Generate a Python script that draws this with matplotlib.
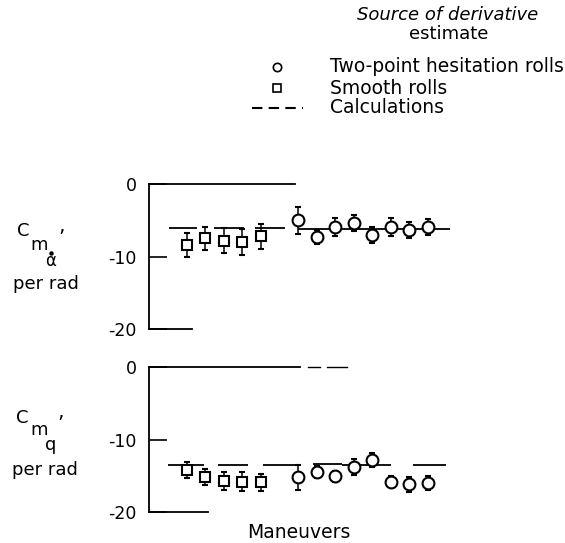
import matplotlib.pyplot as plt

plt.rcParams['font.family'] = ['DejaVu Sans']

# maneuver index of each point (slot 5 is empty)
smooth_x = [0, 1, 2, 3, 4]
hes_x = [6, 7, 8, 9, 10, 11, 12, 13]

# C_m alpha-dot', per rad
ad_smooth = [-8.4, -7.5, -7.8, -8.0, -7.2]
ad_smooth_err = [1.7, 1.6, 1.75, 1.8, 1.7]
ad_hes = [-5.0, -7.3, -5.9, -5.4, -7.0, -5.9, -6.4, -5.9]
ad_hes_err = [1.85, 0.9, 1.25, 1.1, 1.1, 1.2, 1.1, 1.1]
ad_calc_start = [-0.95, 1.45, 3.7, 6.0]
ad_calc_end = [0.55, 3.1, 5.3, 14.2]
ad_calc = [-6.1, -6.1, -6.1, -6.2]

# C_m q', per rad
q_smooth = [-14.2, -15.2, -15.7, -15.8, -15.9]
q_smooth_err = [1.1, 1.1, 1.25, 1.3, 1.2]
q_hes = [-15.2, -14.5, -15.1, -13.8, -12.8, -15.8, -16.2, -16.0]
q_hes_err = [1.7, 0.8, 0.75, 1.1, 1.0, 0.8, 1.0, 1.0]
q_calc_start = [-1.05, 1.7, 4.1, 6.8, 8.4, 12.2]
q_calc_end = [0.9, 3.3, 6.0, 8.4, 11.0, 14.0]
q_calc = [-13.5, -13.5, -13.5, -13.4, -13.5, -13.5]

fig = plt.figure(figsize=(5.65, 5.43), dpi=100)

ax1 = fig.add_axes([0.2637, 0.394, 0.575, 0.267])
ax2 = fig.add_axes([0.2637, 0.0571, 0.575, 0.267])

panels = [
    (ax1, ad_smooth, ad_smooth_err, ad_hes, ad_hes_err,
     ad_calc_start, ad_calc_end, ad_calc, 5.84, 0.27),
    (ax2, q_smooth, q_smooth_err, q_hes, q_hes_err,
     q_calc_start, q_calc_end, q_calc, 6.1, 1.14),
]

for ax, sv, se, hv, he, cs, ce, cv, top_end, bot_end in panels:
    ax.set_xlim(-2.05, 15.5)
    ax.set_ylim(-20, 0)
    for s in ['top', 'right', 'bottom']:
        ax.spines[s].set_visible(False)
    ax.spines['left'].set_linewidth(1.3)
    ax.set_xticks([])
    ax.set_yticks([0, -10, -20])
    ax.set_yticklabels(['0', '-10', '-20'])
    ax.tick_params(axis='y', direction='in', length=13, width=1.2,
                   labelsize=12.5, pad=9)
    # partial frame lines at 0 and -20
    ax.plot([-2.05, top_end], [0, 0], color='black', lw=1.3, clip_on=False)
    ax.plot([-2.05, bot_end], [-20, -20], color='black', lw=1.3, clip_on=False)
    ax.hlines(cv, cs, ce, color='black', lw=1.3)
    ax.errorbar(smooth_x, sv, yerr=se, fmt='s', ms=7.5, mfc='white',
                mec='black', mew=1.5, ecolor='black', elinewidth=1.1,
                capsize=2.5, capthick=1.1)
    ax.errorbar(hes_x, hv, yerr=he, fmt='o', ms=8.5, mfc='white',
                mec='black', mew=1.5, ecolor='black', elinewidth=1.1,
                capsize=2.5, capthick=1.1)

# scan remnants of the lower frame
ax2.plot([6.54, 7.19], [0, 0], color='black', lw=1.0, clip_on=False)
ax2.plot([7.57, 8.65], [0, 0], color='black', lw=1.0, clip_on=False)


def fx(px):
    return px / 565


def fy(py):
    return 1 - py / 543


# y labels, built piece by piece like the lettering on the original
fig.text(fx(23), fy(231), 'C', fontsize=13, ha='center', va='center')
fig.text(fx(39), fy(245), 'm', fontsize=13, ha='center', va='center')
fig.text(fx(61), fy(238), '\u2019', fontsize=14, ha='center', va='center')
fig.text(fx(51), fy(261), '\u03b1', fontsize=12, ha='center', va='center')
# dot over alpha
fig.lines.append(plt.Line2D([fx(51)], [fy(253)], marker='o', ms=2.2,
                            color='black', transform=fig.transFigure))
fig.text(fx(46), fy(284), 'per rad', fontsize=13, ha='center', va='center')

fig.text(fx(22), fy(418), 'C', fontsize=13, ha='center', va='center')
fig.text(fx(39), fy(430), 'm', fontsize=13, ha='center', va='center')
fig.text(fx(60), fy(424), '\u2019', fontsize=14, ha='center', va='center')
fig.text(fx(51), fy(445), 'q', fontsize=13, ha='center', va='center')
fig.text(fx(45), fy(470), 'per rad', fontsize=13, ha='center', va='center')

fig.text(fx(299), fy(533), 'Maneuvers', fontsize=13.5, ha='center', va='center')

# legend
fig.text(fx(448), fy(15), 'Source of derivative', fontsize=13,
         style='italic', ha='center', va='center')
fig.text(fx(449), fy(34), 'estimate', fontsize=13, ha='center', va='center')
fig.lines.append(plt.Line2D([fx(277)], [fy(67)], marker='o', ms=6,
                            mfc='white', mec='black', mew=1.2,
                            transform=fig.transFigure))
fig.lines.append(plt.Line2D([fx(277)], [fy(88)], marker='s', ms=5.5,
                            mfc='white', mec='black', mew=1.2,
                            transform=fig.transFigure))
fig.lines.append(plt.Line2D([fx(252), fx(303)], [fy(108)] * 2,
                            color='black', lw=1.5, ls=(0, (5, 3)),
                            transform=fig.transFigure))
fig.text(fx(330), fy(67), 'Two-point hesitation rolls', fontsize=13.5,
         ha='left', va='center')
fig.text(fx(330), fy(88), 'Smooth rolls', fontsize=13.5, ha='left', va='center')
fig.text(fx(330), fy(108), 'Calculations', fontsize=13.5, ha='left', va='center')

fig.savefig('out.png', dpi=100)
